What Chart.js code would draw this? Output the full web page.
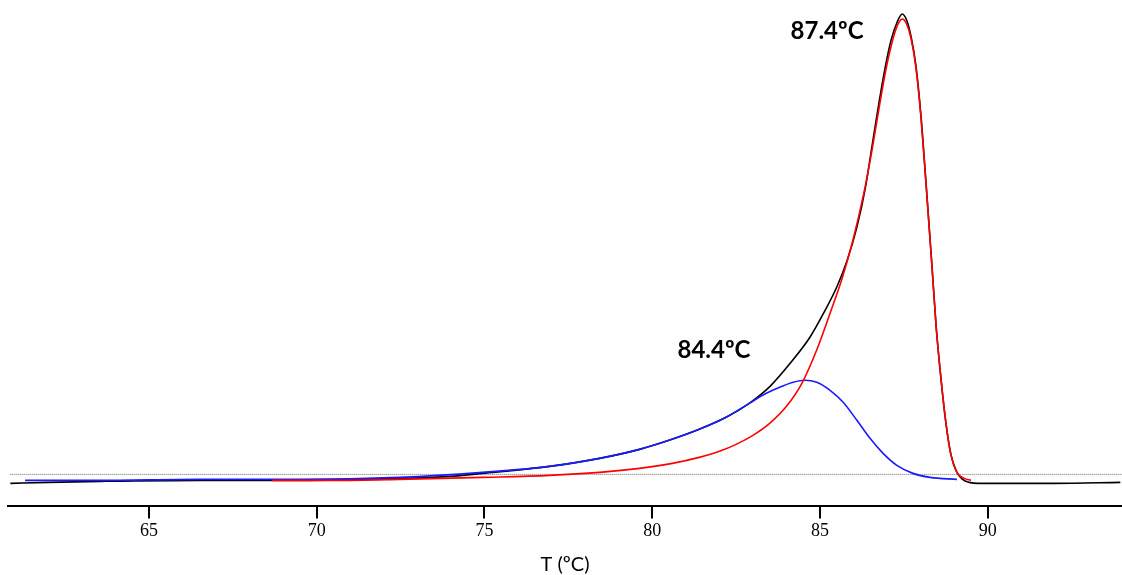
<!DOCTYPE html>
<html>
<head>
<meta charset="utf-8">
<script src="https://cdn.jsdelivr.net/npm/chart.js@4/dist/chart.umd.min.js"></script>
<style>
  html, body { margin: 0; padding: 0; background: #ffffff; }
  #wrap { width: 1122px; height: 575px; position: relative; }
</style>
</head>
<body>
<div id="wrap"><canvas id="chart-melt"></canvas></div>
<script>
// melting curve (-dF/dT, arbitrary units)
const totalT = [60.87, 62.0, 63.55, 66.52, 69.5, 72.47, 73.96, 74.94, 76.94, 78.43, 79.62, 80.5, 81.4, 82.2, 82.89, 83.51, 84.11, 84.7, 85.09, 85.51, 85.8, 86.1, 86.35, 86.55, 86.76, 86.95, 87.12, 87.3, 87.45, 87.58, 87.71, 87.86, 88.01, 88.16, 88.34, 88.46, 88.61, 88.75, 88.9, 89.08, 89.25, 89.45, 89.7, 90.5, 92.0, 93.95];
const totalY = [23, 24, 25, 26, 26, 28, 30, 33, 40, 48, 57, 66, 77, 89, 103, 120, 143, 169, 192, 220, 245, 279, 318, 360, 404, 440, 466, 484, 492, 486, 470, 440, 390, 323, 239, 180, 126, 84, 52, 34, 27, 24, 23, 23, 23, 24];

const peak1T = [68.67, 70.5, 72.47, 74.94, 76.94, 78.43, 79.62, 80.6, 81.4, 82.0, 82.5, 83.0, 83.5, 84.0, 84.46, 84.91, 85.3, 85.66, 85.98, 86.3, 86.55, 86.76, 86.95, 87.12, 87.3, 87.45, 87.58, 87.71, 87.86, 88.01, 88.16, 88.34, 88.46, 88.61, 88.75, 88.9, 89.08, 89.3, 89.5];
const peak1Y = [26, 26, 27, 29, 31, 34, 38, 43, 49, 55, 62, 71, 83, 100, 123, 157, 193, 228, 266, 312, 356, 398, 434, 460, 480, 487, 482, 468, 438, 388, 322, 238, 180, 126, 84, 52, 34, 28, 26];

const peak2T = [61.31, 63.5, 66.5, 69.5, 72.47, 74.94, 76.94, 78.43, 79.62, 80.5, 81.4, 82.2, 82.89, 83.4, 83.87, 84.2, 84.55, 84.9, 85.3, 85.69, 86.1, 86.49, 86.88, 87.29, 87.77, 88.28, 89.08];
const peak2Y = [26, 26, 27, 27, 29, 34, 40, 48, 57, 66, 77, 89, 103, 113, 120, 124, 126, 124, 116, 104, 86, 68, 53, 41, 33, 29, 27];

const thresholdT = [60.87, 94];
const thresholdY = [32, 32];

const tickValues = [65, 70, 75, 80, 85, 90];

const peakLabels = ["87.4ºC", "84.4ºC"];
const peakLabelT = [85.21, 81.84];
const peakLabelY = [475, 156];

const toPoints = (xs, ys) => xs.map((x, i) => ({ x: x, y: ys[i] }));

const peakLabelPlugin = {
  id: "peakLabels",
  afterDatasetsDraw(chart) {
    const ctx = chart.ctx;
    const xs = chart.scales.x;
    const ys = chart.scales.y;
    ctx.save();
    ctx.font = "bold 24px Lato";
    ctx.fillStyle = "#000000";
    ctx.textAlign = "center";
    ctx.textBaseline = "middle";
    peakLabels.forEach((txt, i) => {
      ctx.fillText(txt, xs.getPixelForValue(peakLabelT[i]), ys.getPixelForValue(peakLabelY[i]));
    });
    ctx.restore();
  },
};

const lineStyle = {
  pointRadius: 0,
  borderWidth: 1.6,
  cubicInterpolationMode: "monotone",
  fill: false,
};

new Chart(document.querySelector("#chart-melt").getContext("2d"), {
  type: "line",
  data: {
    datasets: [
      { ...lineStyle, data: toPoints(peak1T, peak1Y), borderColor: "#ff0000", order: 0 },
      { ...lineStyle, data: toPoints(peak2T, peak2Y), borderColor: "#1a1aff", order: 1 },
      { ...lineStyle, data: toPoints(totalT, totalY), borderColor: "#000000", order: 2 },
      {
        data: toPoints(thresholdT, thresholdY),
        borderColor: "#666666",
        borderWidth: 1,
        borderDash: [1, 1],
        pointRadius: 0,
        order: 3,
      },
    ],
  },
  options: {
    animation: false,
    responsive: true,
    maintainAspectRatio: false,
    layout: { padding: { left: 8, right: 0, top: 0, bottom: 0 } },
    scales: {
      x: {
        type: "linear",
        min: 60.8,
        max: 94,
        afterBuildTicks: (scale) => {
          scale.ticks = tickValues.map((v) => ({ value: v }));
        },
        grid: {
          display: true,
          drawOnChartArea: false,
          drawTicks: true,
          tickLength: 12,
          color: "#000000",
          lineWidth: 2,
        },
        border: { display: true, color: "#000000", width: 2 },
        ticks: {
          color: "#000000",
          padding: 2,
          maxRotation: 0,
          font: { family: "Liberation Serif", size: 18 },
        },
        title: {
          display: true,
          text: "T (ºC)",
          color: "#000000",
          font: { family: "Lato", size: 20, lineHeight: 1 },
          padding: { top: 11, bottom: 0 },
        },
      },
      y: { display: false, min: 0, max: 506 },
    },
    plugins: {
      legend: { display: false },
      tooltip: { enabled: false },
    },
  },
  plugins: [peakLabelPlugin],
});
</script>
</body>
</html>
